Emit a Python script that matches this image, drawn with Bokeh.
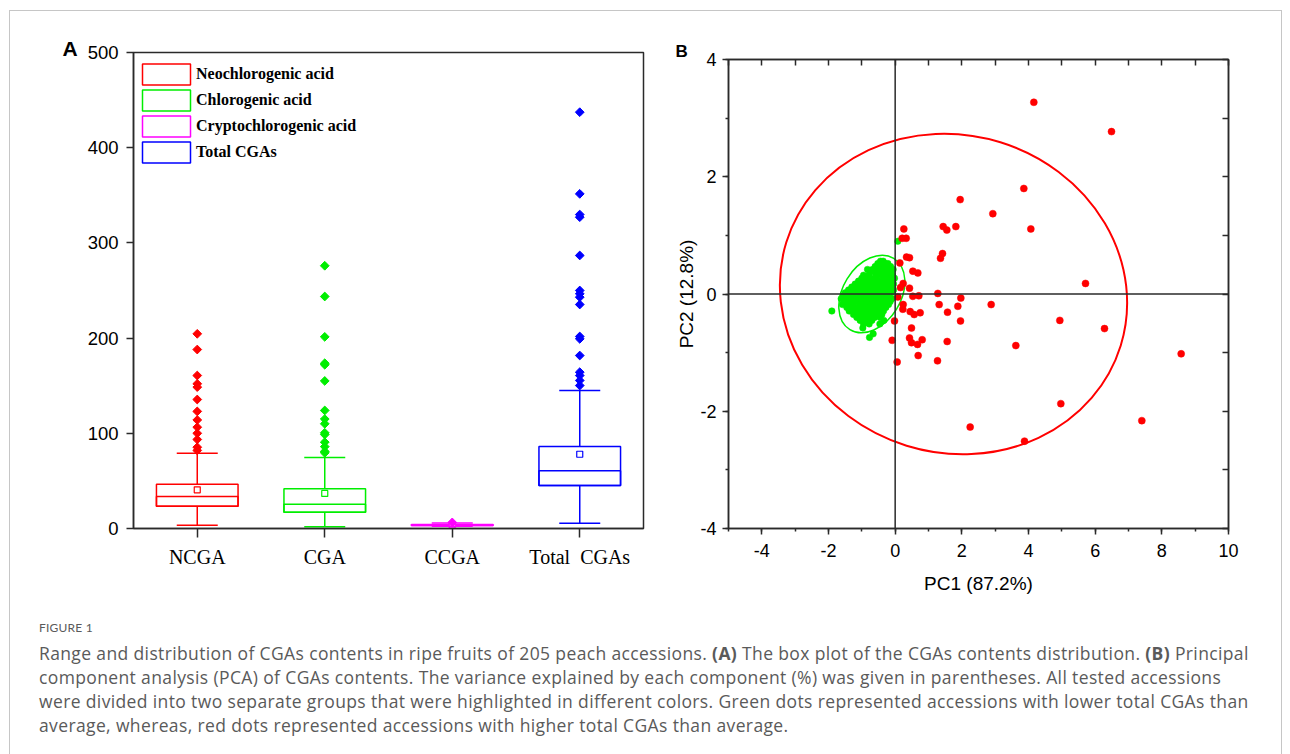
from bokeh.plotting import figure
from bokeh.models import (FactorRange, Range1d, Whisker, TeeHead, Legend, LegendItem, Span,
                          LinearAxis, SingleIntervalTicker, CustomJSTickFormatter, ColumnDataSource, Div,
                          InlineStyleSheet)
from bokeh.layouts import row, column
from bokeh.embed import file_html
from bokeh.resources import INLINE

# ---------------- Panel A data ----------------
categories = ["NCGA", "CGA", "CCGA", "Total\u00a0 CGAs"]
series_names = ["Neochlorogenic acid", "Chlorogenic acid", "Cryptochlorogenic acid", "Total CGAs"]
colors = ["#ff0000", "#00ee00", "#ff00ff", "#0000ff"]
q1 = [23.4, 17.1, 3.2, 45.2]
median = [33.6, 25.5, 3.7, 60.6]
q3 = [46.5, 41.7, 4.3, 86.1]
mean = [40.6, 36.8, 3.9, 78.0]
whisker_low = [3.5, 1.8, 2.4, 5.6]
whisker_high = [79.0, 74.6, 5.8, 145.0]
outliers_ncga = [204.5, 188, 160.7, 152, 148.5, 135.5, 123, 114, 106.4, 100, 93.5, 85.4, 82]
outliers_cga = [276, 243.7, 201.3, 173.6, 172, 155, 124, 115, 110, 100.5, 98.7, 90.7, 86, 81, 79.5]
outliers_ccga = [6.4]
outliers_total = [437.3, 351.5, 329.8, 327, 286.8, 250, 246.5, 243, 235.3, 201.7, 199.2,
                  181.7, 164.2, 160.7, 155.5, 150.2]
y_ticks_a = [0, 100, 200, 300, 400, 500]

# ---------------- Panel B data ----------------
red_x = [4.16, 6.49, 3.86, 1.95, 2.93, 4.07, 1.44, 1.55, 1.82, 0.26, 0.33, 0.21, 1.42, 1.36, 0.34,
         0.43, 0.53, 0.68, 0.43, 5.71, 1.28, 0.53, 0.71, 1.97, 1.32, 1.88, 2.88, 0.24, 0.23, 0.45,
         0.57, 0.75, 1.57, 1.96, 4.94, 6.28, 0.49, 0.43, 0.49, 0.67, 0.81, 1.56, 3.62, 0.69, 1.27,
         8.58, 4.97, 7.40, 2.25, 3.88, -0.02, -0.09, 0.06, 0.14, 0.24, 0.16, 0.08]
red_y = [3.27, 2.77, 1.80, 1.61, 1.37, 1.11, 1.15, 1.09, 1.15, 1.11, 0.95, 0.95, 0.69, 0.61, 0.63,
         0.62, 0.39, 0.36, 0.10, 0.18, 0.01, -0.04, -0.03, -0.07, -0.18, -0.21, -0.18, -0.18, -0.26,
         -0.30, -0.35, -0.32, -0.31, -0.46, -0.45, -0.59, -0.58, -0.75, -0.83, -0.86, -0.78, -0.81,
         -0.88, -1.05, -1.14, -1.02, -1.87, -2.16, -2.27, -2.51, -0.46, -0.79, -1.16, 0.53, 0.18,
         0.11, -0.05]
# green accessions, read row by row (PC2 value, PC1 values)
green_rows_y = [0.90, 0.56, 0.52, 0.47, 0.42, 0.37, 0.32, 0.27, 0.22, 0.17, 0.12, 0.07, 0.02, -0.03,
                -0.08, -0.13, -0.18, -0.23, -0.29, -0.35, -0.40, -0.45, -0.51, -0.58, -0.68, -0.74]
green_rows_x = [
    [0.08],
    [-0.44, -0.36],
    [-0.52, -0.30, -0.22],
    [-0.60, -0.42, -0.28, -0.14],
    [-0.83, -0.68, -0.50, -0.36, -0.20, -0.06],
    [-0.75, -0.60, -0.44, -0.30, -0.12],
    [-0.95, -0.80, -0.56, -0.40, -0.24, -0.08],
    [-1.00, -0.86, -0.70, -0.56, -0.34, -0.18, -0.02],
    [-1.10, -0.94, -0.78, -0.62, -0.48, -0.30, -0.12],
    [-1.20, -1.02, -0.85, -0.68, -0.52, -0.38, -0.22, -0.05],
    [-1.30, -1.12, -0.95, -0.80, -0.65, -0.45, -0.28, -0.14],
    [-1.40, -1.25, -1.05, -0.90, -0.72, -0.55, -0.40, -0.20, -0.05],
    [-1.50, -1.35, -1.15, -1.00, -0.85, -0.62, -0.48, -0.30, -0.12],
    [-1.56, -1.40, -1.22, -1.08, -0.92, -0.75, -0.58, -0.38, -0.20],
    [-1.62, -1.45, -1.30, -1.12, -0.95, -0.80, -0.65, -0.45, -0.25, -0.10],
    [-1.50, -1.35, -1.18, -1.00, -0.85, -0.68, -0.52, -0.32, -0.15],
    [-1.58, -1.42, -1.25, -1.05, -0.90, -0.72, -0.55, -0.40, -0.20],
    [-1.45, -1.30, -1.12, -0.95, -0.78, -0.60, -0.42, -0.28],
    [-1.90, -1.38, -1.20, -1.02, -0.85, -0.68, -0.50, -0.35],
    [-1.25, -1.08, -0.92, -0.75, -0.58, -0.40],
    [-1.15, -0.98, -0.80, -0.62, -0.45],
    [-1.05, -0.88, -0.70, -0.34],
    [-0.95, -0.78, -0.46],
    [-0.97],
    [-0.66],
    [-0.77],
]
green_x = [x for xs in green_rows_x for x in xs]
green_y = [y for y, xs in zip(green_rows_y, green_rows_x) for _ in xs]

# confidence ellipses (centre, full width, full height in data units, angle in rad)
ellipse_red = dict(x=1.75, y=0.0, w=10.5, h=5.42, angle=-0.30)
ellipse_green = dict(x=-0.70, y=0.0, w=2.51, h=0.99, angle=1.02)

SANS = "Liberation Sans"
SERIF = "Liberation Serif"
AXIS = "#2a2a2a"

# ================= Panel A =================
pA = figure(width=660, height=598, x_range=FactorRange(*categories), y_range=Range1d(0, 500),
            output_backend="svg", toolbar_location=None,
            min_border_left=133, min_border_right=17, min_border_top=52, min_border_bottom=70)
pA.grid.grid_line_color = None
pA.outline_line_color = AXIS
pA.outline_line_width = 1.5
pA.outline_line_alpha = 1
pA.border_fill_color = "white"

pA.title.text = "A"
pA.title.align = "left"
pA.title.vertical_align = "bottom"
pA.title.offset = -71
pA.title.standoff = -14
pA.title.text_font = SANS
pA.title.text_font_style = "bold"
pA.title.text_font_size = "21px"
pA.title.text_color = "black"

ya = pA.yaxis[0]
ya.ticker = y_ticks_a
ya.major_tick_out = 7
ya.major_tick_in = 0
ya.minor_tick_out = 0
ya.axis_line_color = AXIS
ya.axis_line_width = 1.5
ya.major_tick_line_color = AXIS
ya.major_tick_line_width = 1.5
ya.major_label_text_font = SANS
ya.major_label_text_font_size = "18.5px"
ya.major_label_text_color = "black"
ya.major_label_standoff = 8

xa = pA.xaxis[0]
xa.major_tick_out = 9
xa.major_tick_in = 0
xa.axis_line_color = AXIS
xa.axis_line_width = 1.5
xa.major_tick_line_color = AXIS
xa.major_tick_line_width = 1.5
xa.major_label_text_font = SERIF
xa.major_label_text_font_size = "20px"
xa.major_label_text_color = "black"
xa.major_label_standoff = 8

src = ColumnDataSource(dict(cat=categories, q1=q1, q3=q3, med=median, mean=mean,
                            lo=whisker_low, hi=whisker_high, color=colors))

for i, c in enumerate(categories):
    s = ColumnDataSource(dict(base=[c], lo=[whisker_low[i]], q1=[q1[i]], q3=[q3[i]], hi=[whisker_high[i]]))
    pA.add_layout(Whisker(source=s, base="base", upper="hi", lower="q3", line_color=colors[i],
                          line_width=1.5, level="glyph",
                          upper_head=TeeHead(size=41, line_color=colors[i], line_width=1.5),
                          lower_head=None))
    pA.add_layout(Whisker(source=s, base="base", upper="q1", lower="lo", line_color=colors[i],
                          line_width=1.5, level="glyph",
                          lower_head=TeeHead(size=41, line_color=colors[i], line_width=1.5),
                          upper_head=None))

box = pA.vbar(x="cat", top="q3", bottom="q1", width=0.64, fill_color=None, line_color="color",
              line_width=1.5, source=src)
pA.vbar(x="cat", top="med", bottom="q1", width=0.64, fill_color=None, line_color="color",
        line_width=1.5, source=src)
pA.scatter(x="cat", y="mean", marker="square", size=6, fill_color="white", line_color="color",
           line_width=1.2, source=src)

out_cat, out_val, out_col = [], [], []
for c, col, vals in zip(categories, colors, [outliers_ncga, outliers_cga, outliers_ccga, outliers_total]):
    for v in vals:
        out_cat.append(c)
        out_val.append(v)
        out_col.append(col)
pA.scatter(x=out_cat, y=out_val, marker="square", angle=0.785398, size=6.2,
           fill_color=out_col, line_color=out_col, line_width=1)

legend = Legend(items=[LegendItem(label=n, renderers=[box], index=i) for i, n in enumerate(series_names)],
                location=(0, 360), orientation="vertical", glyph_width=60, glyph_height=26,
                spacing=0, padding=3, margin=0, label_standoff=0,
                label_text_font=SERIF, label_text_font_style="bold", label_text_font_size="16px",
                label_text_color="black", border_line_alpha=0, background_fill_alpha=0)
pA.add_layout(legend, "center")

# ================= Panel B =================
pB = figure(width=600, height=598, x_range=Range1d(-5, 10), y_range=Range1d(-4, 4),
            output_backend="svg", toolbar_location=None,
            min_border_left=68, min_border_right=32, min_border_top=59, min_border_bottom=70)
pB.grid.grid_line_color = None
pB.outline_line_color = AXIS
pB.outline_line_width = 1.5
pB.outline_line_alpha = 1
pB.border_fill_color = "white"

pB.title.text = "B"
pB.title.align = "left"
pB.title.vertical_align = "bottom"
pB.title.offset = -53
pB.title.standoff = -2
pB.title.text_font = SANS
pB.title.text_font_style = "bold"
pB.title.text_font_size = "17px"
pB.title.text_color = "black"

for ax, lab, std, lstd in ((pB.below[0], "PC1 (87.2%)", 9, 13), (pB.left[0], "PC2 (12.8%)", 6, 0)):
    ax.ticker = SingleIntervalTicker(interval=2, num_minor_ticks=2)
    ax.formatter = CustomJSTickFormatter(code="return tick.toString()")
    ax.major_tick_out = 6
    ax.major_tick_in = 0
    ax.minor_tick_out = 3
    ax.minor_tick_in = 0
    ax.axis_line_color = AXIS
    ax.axis_line_width = 1.5
    ax.major_tick_line_color = AXIS
    ax.major_tick_line_width = 1.5
    ax.minor_tick_line_color = AXIS
    ax.minor_tick_line_width = 1.5
    ax.major_label_text_font = SANS
    ax.major_label_text_font_size = "18px"
    ax.major_label_text_color = "black"
    ax.major_label_standoff = std
    ax.axis_label = lab
    ax.axis_label_text_font = SANS
    ax.axis_label_text_font_size = "19px"
    ax.axis_label_text_font_style = "normal"
    ax.axis_label_text_color = "black"
    ax.axis_label_standoff = lstd

for side in ("above", "right"):
    ax = LinearAxis(ticker=SingleIntervalTicker(interval=1, num_minor_ticks=0),
                    formatter=CustomJSTickFormatter(code="return ''"),
                    major_tick_in=6, major_tick_out=0, minor_tick_in=0, minor_tick_out=0,
                    axis_line_color=AXIS, axis_line_width=1.5,
                    major_tick_line_color=AXIS, major_tick_line_width=1.5)
    pB.add_layout(ax, side)

pB.add_layout(Span(location=0, dimension="height", line_color=AXIS, line_width=1.5))
pB.add_layout(Span(location=0, dimension="width", line_color=AXIS, line_width=1.5))

pB.ellipse(x=[ellipse_red["x"]], y=[ellipse_red["y"]], width=[ellipse_red["w"]], height=[ellipse_red["h"]],
           angle=[ellipse_red["angle"]], fill_color=None, line_color="#ff0000", line_width=2)
pB.ellipse(x=[ellipse_green["x"]], y=[ellipse_green["y"]], width=[ellipse_green["w"]],
           height=[ellipse_green["h"]], angle=[ellipse_green["angle"]], fill_color=None,
           line_color="#00ee00", line_width=1.5)

pB.scatter(x=green_x, y=green_y, size=6.5, fill_color="#00ee00", line_color="#00ee00", line_width=0.5)
pB.scatter(x=red_x, y=red_y, size=7, fill_color="#ff0000", line_color="#ff0000", line_width=0.5)

# ================= Caption =================
caption_title = "FIGURE 1"
caption_lines = [
    'Range and distribution of CGAs contents in ripe fruits of 205 peach accessions. <b>(A)</b> The box plot of the CGAs contents distribution. <b>(B)</b> Principal',
    'component analysis (PCA) of CGAs contents. The variance explained by each component (%) was given in parentheses. All tested accessions',
    'were divided into two separate groups that were highlighted in different colors. Green dots represented accessions with lower total CGAs than',
    'average, whereas, red dots represented accessions with higher total CGAs than average.',
]
caption_html = (
    '<div style="color:#5a5a5a; padding-left:34px; white-space:nowrap;">'
    '<div style="font-family:Lato, sans-serif; font-size:12px; line-height:16px; margin-top:17px; letter-spacing:0.2px;">'
    + caption_title + '</div>'
    '<div style="font-family:\'Open Sans\', sans-serif; font-size:17.5px; line-height:24px; margin-top:5px; letter-spacing:0.37px;">'
    + '<br>'.join(caption_lines) + '</div>'
    '</div>'
)
caption = Div(text=caption_html, width=1280, height=150)

frame_css = InlineStyleSheet(css="""
:host { position: relative; }
:host::after {
  content: ""; position: absolute; left: 9px; top: 10px; width: 1273px; height: 760px;
  box-sizing: border-box; border: 1px solid #c6c6c6; border-bottom: none;
  pointer-events: none; z-index: 10;
}
""")

layout = column(row(column(pA), column(pB)), caption, stylesheets=[frame_css])
open("out.html", "w").write(file_html(layout, INLINE))
